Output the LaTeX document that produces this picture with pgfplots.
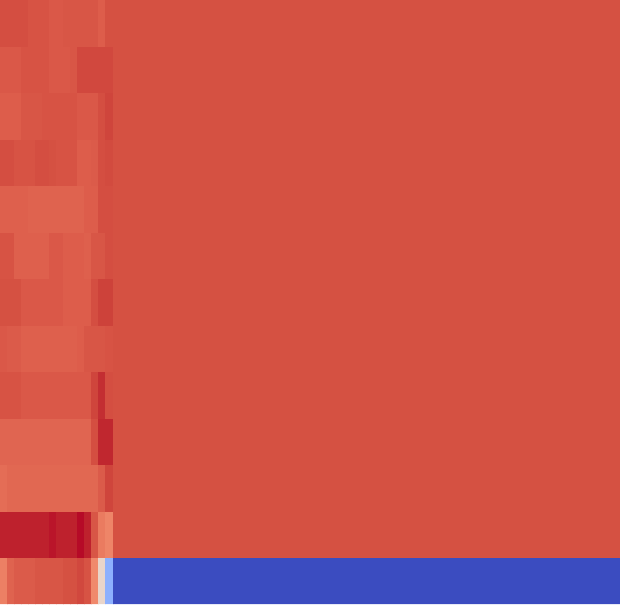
\documentclass[border=0pt]{standalone}
\usepackage{pgfplots}
\pgfplotsset{compat=1.18}
\pgfplotsset{colormap={coolwarm}{
rgb255=(59,76,192) rgb255=(68,90,204) rgb255=(77,104,215) rgb255=(87,117,225)
rgb255=(98,130,234) rgb255=(108,142,241) rgb255=(119,154,247) rgb255=(130,165,251)
rgb255=(141,176,254) rgb255=(152,185,255) rgb255=(163,194,255) rgb255=(174,201,253)
rgb255=(184,208,249) rgb255=(194,213,244) rgb255=(204,217,238) rgb255=(213,219,230)
rgb255=(221,221,221) rgb255=(229,216,209) rgb255=(236,211,197) rgb255=(241,204,185)
rgb255=(245,196,173) rgb255=(247,187,160) rgb255=(247,177,148) rgb255=(247,166,135)
rgb255=(244,154,123) rgb255=(241,141,111) rgb255=(236,127,99) rgb255=(229,112,88)
rgb255=(222,96,77) rgb255=(213,80,66) rgb255=(203,62,56) rgb255=(192,40,47)
rgb255=(180,4,38)}}
\begin{document}
\begin{tikzpicture}
\begin{axis}[
  scale only axis, width=10cm, height=9.742cm,
  hide axis, view={0}{90},
  xmin=0, xmax=87.79, ymin=0, ymax=13,
  colormap name=coolwarm, point meta min=0, point meta max=1,
]
\addplot3[surf, shader=flat corner, mesh/cols=18, mesh/ordering=x varies, point meta=explicit]
table[x=x, y=y, z expr=0, meta=c] {
x y c
0 0 0.81
1 0 0.87
2 0 0.885
3 0 0.885
4 0 0.885
5 0 0.895
6 0 0.895
7 0 0.895
8 0 0.895
9 0 0.905
10 0 0.905
11 0 0.92
12 0 0.90
13 0 0.79
14 0 0.55
15 0 0.25
16 0 0.0
87.79 0 0.5
0 1 0.975
1 1 0.975
2 1 0.975
3 1 0.975
4 1 0.975
5 1 0.975
6 1 0.975
7 1 0.985
8 1 0.975
9 1 0.975
10 1 0.975
11 1 0.995
12 1 0.975
13 1 0.895
14 1 0.82
15 1 0.80
16 1 0.905
87.79 1 0.5
0 2 0.85
1 2 0.86
2 2 0.86
3 2 0.86
4 2 0.86
5 2 0.86
6 2 0.86
7 2 0.86
8 2 0.86
9 2 0.86
10 2 0.86
11 2 0.86
12 2 0.86
13 2 0.86
14 2 0.885
15 2 0.925
16 2 0.905
87.79 2 0.5
0 3 0.865
1 3 0.865
2 3 0.865
3 3 0.865
4 3 0.865
5 3 0.865
6 3 0.865
7 3 0.865
8 3 0.865
9 3 0.865
10 3 0.865
11 3 0.865
12 3 0.865
13 3 0.91
14 3 0.97
15 3 0.97
16 3 0.905
87.79 3 0.5
0 4 0.90
1 4 0.90
2 4 0.90
3 4 0.89
4 4 0.89
5 4 0.89
6 4 0.89
7 4 0.89
8 4 0.89
9 4 0.89
10 4 0.89
11 4 0.89
12 4 0.89
13 4 0.925
14 4 0.96
15 4 0.91
16 4 0.905
87.79 4 0.5
0 5 0.89
1 5 0.885
2 5 0.885
3 5 0.875
4 5 0.875
5 5 0.875
6 5 0.875
7 5 0.875
8 5 0.875
9 5 0.875
10 5 0.875
11 5 0.88
12 5 0.895
13 5 0.895
14 5 0.895
15 5 0.90
16 5 0.905
87.79 5 0.5
0 6 0.905
1 6 0.905
2 6 0.905
3 6 0.89
4 6 0.89
5 6 0.89
6 6 0.89
7 6 0.89
8 6 0.89
9 6 0.88
10 6 0.88
11 6 0.88
12 6 0.88
13 6 0.91
14 6 0.93
15 6 0.93
16 6 0.905
87.79 6 0.5
0 7 0.90
1 7 0.90
2 7 0.875
3 7 0.875
4 7 0.875
5 7 0.875
6 7 0.875
7 7 0.89
8 7 0.89
9 7 0.88
10 7 0.88
11 7 0.88
12 7 0.875
13 7 0.895
14 7 0.895
15 7 0.91
16 7 0.905
87.79 7 0.5
0 8 0.875
1 8 0.875
2 8 0.875
3 8 0.875
4 8 0.87
5 8 0.87
6 8 0.87
7 8 0.87
8 8 0.87
9 8 0.87
10 8 0.87
11 8 0.87
12 8 0.88
13 8 0.88
14 8 0.91
15 8 0.91
16 8 0.905
87.79 8 0.5
0 9 0.91
1 9 0.91
2 9 0.90
3 9 0.90
4 9 0.90
5 9 0.91
6 9 0.91
7 9 0.905
8 9 0.90
9 9 0.90
10 9 0.90
11 9 0.88
12 9 0.88
13 9 0.885
14 9 0.91
15 9 0.915
16 9 0.905
87.79 9 0.5
0 10 0.88
1 10 0.88
2 10 0.88
3 10 0.895
4 10 0.895
5 10 0.895
6 10 0.90
7 10 0.90
8 10 0.90
9 10 0.90
10 10 0.90
11 10 0.89
12 10 0.89
13 10 0.89
14 10 0.91
15 10 0.925
16 10 0.905
87.79 10 0.5
0 11 0.89
1 11 0.89
2 11 0.89
3 11 0.90
4 11 0.90
5 11 0.90
6 11 0.90
7 11 0.89
8 11 0.89
9 11 0.89
10 11 0.895
11 11 0.92
12 11 0.92
13 11 0.92
14 11 0.92
15 11 0.92
16 11 0.905
87.79 11 0.5
0 12 0.91
1 12 0.91
2 12 0.91
3 12 0.91
4 12 0.90
5 12 0.90
6 12 0.90
7 12 0.89
8 12 0.89
9 12 0.895
10 12 0.895
11 12 0.895
12 12 0.895
13 12 0.895
14 12 0.88
15 12 0.905
16 12 0.905
87.79 12 0.5
0 13 0.5
1 13 0.5
2 13 0.5
3 13 0.5
4 13 0.5
5 13 0.5
6 13 0.5
7 13 0.5
8 13 0.5
9 13 0.5
10 13 0.5
11 13 0.5
12 13 0.5
13 13 0.5
14 13 0.5
15 13 0.5
16 13 0.5
87.79 13 0.5
};
\end{axis}
\end{tikzpicture}
\end{document}
